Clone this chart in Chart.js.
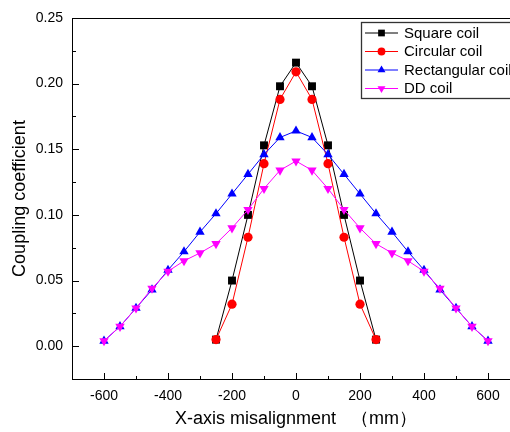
<!DOCTYPE html>
<html>
<head>
<meta charset="utf-8">
<script src="https://cdn.jsdelivr.net/npm/chart.js@4"></script>
<style>
  html, body { margin: 0; padding: 0; background: #fff; overflow: hidden; }
  #wrap { width: 530px; height: 432px; }
</style>
</head>
<body>
<div id="wrap"><canvas id="c" width="530" height="432"></canvas></div>
<script>
// Lateral offset of the receiver (mm)
const X_NARROW = [-250, -200, -150, -100, -50, 0, 50, 100, 150, 200, 250];
const X_WIDE = [-600, -550, -500, -450, -400, -350, -300, -250, -200, -150, -100, -50, 0,
                50, 100, 150, 200, 250, 300, 350, 400, 450, 500, 550, 600];

// Coupling coefficient for each pad geometry
const SQUARE = [0.005, 0.050, 0.100, 0.153, 0.198, 0.216, 0.198, 0.153, 0.100, 0.050, 0.005];
const CIRCULAR = [0.005, 0.032, 0.083, 0.139, 0.188, 0.209, 0.188, 0.139, 0.083, 0.032, 0.005];
const RECTANGULAR = [0.004, 0.015, 0.029, 0.043, 0.058, 0.072, 0.087, 0.101, 0.116, 0.131, 0.146, 0.159, 0.164,
                     0.159, 0.146, 0.131, 0.116, 0.101, 0.087, 0.072, 0.058, 0.043, 0.029, 0.015, 0.004];
const DD = [0.004, 0.015, 0.029, 0.044, 0.057, 0.065, 0.071, 0.078, 0.090, 0.104, 0.120, 0.134, 0.141,
            0.134, 0.120, 0.104, 0.090, 0.078, 0.071, 0.065, 0.057, 0.044, 0.029, 0.015, 0.004];

const SERIES_LABELS = ['Square coil', 'Circular coil', 'Rectangular coil', 'DD coil'];

// Axis ticks
const X_TICKS = [-600, -400, -200, 0, 200, 400, 600];
const X_MINOR = [-700, -500, -300, -100, 100, 300, 500, 700];
const Y_TICKS = [0.00, 0.05, 0.10, 0.15, 0.20, 0.25];
const Y_MINOR = [-0.025, 0.025, 0.075, 0.125, 0.175, 0.225];

const FONT = '"Liberation Sans", Arial, Helvetica, sans-serif';

function pts(xs, ys) { return xs.map((x, i) => ({ x: x, y: ys[i] })); }

const datasets = [
  { label: SERIES_LABELS[0], data: pts(X_NARROW, SQUARE), borderColor: '#000000', backgroundColor: '#000000',
    pointStyle: 'rect', pointRadius: 5.6, order: 4 },
  { label: SERIES_LABELS[1], data: pts(X_NARROW, CIRCULAR), borderColor: '#ff0000', backgroundColor: '#ff0000',
    pointStyle: 'circle', pointRadius: 4.6, order: 3 },
  { label: SERIES_LABELS[2], data: pts(X_WIDE, RECTANGULAR), borderColor: '#0000ff', backgroundColor: '#0000ff',
    pointStyle: 'triangle', pointRadius: 5.4, order: 2 },
  { label: SERIES_LABELS[3], data: pts(X_WIDE, DD), borderColor: '#ff00ff', backgroundColor: '#ff00ff',
    pointStyle: 'triangle', pointRotation: 180, pointRadius: 5.4, order: 1 }
].map(d => Object.assign({ showLine: true, borderWidth: 1, pointBorderWidth: 0, fill: false, tension: 0 }, d));

// Inward major/minor ticks, top frame line and the boxed legend
const framePlugin = {
  id: 'frame',
  afterDraw(chart) {
    const ctx = chart.ctx, a = chart.chartArea;
    const xs = chart.scales.x, ys = chart.scales.y;
    ctx.save();
    ctx.strokeStyle = '#000';
    ctx.lineWidth = 1;
    ctx.beginPath();
    ctx.moveTo(a.left, a.top + 0.5); ctx.lineTo(a.right, a.top + 0.5);
    ctx.moveTo(a.right - 0.5, a.top); ctx.lineTo(a.right - 0.5, a.bottom);
    X_TICKS.forEach(v => { const p = Math.round(xs.getPixelForValue(v)) + 0.5; ctx.moveTo(p, a.bottom); ctx.lineTo(p, a.bottom - 6); });
    X_MINOR.forEach(v => { const p = Math.round(xs.getPixelForValue(v)) + 0.5; ctx.moveTo(p, a.bottom); ctx.lineTo(p, a.bottom - 3); });
    Y_TICKS.forEach(v => { const p = Math.round(ys.getPixelForValue(v)) + 0.5; ctx.moveTo(a.left, p); ctx.lineTo(a.left + 7, p); });
    Y_MINOR.forEach(v => { const p = Math.round(ys.getPixelForValue(v)) + 0.5; ctx.moveTo(a.left, p); ctx.lineTo(a.left + 4, p); });
    ctx.stroke();

    // legend
    const bx = 361.5, by = 22.5, bw = 180, bh = 76;
    ctx.fillStyle = '#fff';
    ctx.fillRect(bx, by, bw, bh);
    ctx.strokeStyle = '#333';
    ctx.lineWidth = 1.3;
    ctx.strokeRect(bx, by, bw, bh);
    const rows = [33, 51.5, 70, 88.5];
    chart.data.datasets.forEach((ds, i) => {
      const y = rows[i];
      ctx.strokeStyle = ds.borderColor;
      ctx.lineWidth = 1;
      ctx.beginPath(); ctx.moveTo(365, y); ctx.lineTo(398, y); ctx.stroke();
      ctx.fillStyle = ds.backgroundColor;
      Chart.helpers.drawPoint(ctx, { pointStyle: ds.pointStyle, radius: ds.pointRadius * 0.85,
        rotation: ds.pointRotation || 0, borderWidth: 0 }, 381.5, y);
      ctx.fillStyle = '#000';
      ctx.font = '15px ' + FONT;
      ctx.textBaseline = 'middle';
      ctx.textAlign = 'left';
      ctx.fillText(ds.label, 404, y + 0.5);
    });
    ctx.restore();
  }
};

new Chart(document.getElementById('c'), {
  type: 'scatter',
  data: { datasets: datasets },
  plugins: [framePlugin],
  options: {
    responsive: false,
    animation: false,
    layout: { padding: { top: 18, right: 10, left: 0, bottom: 0 } },
    plugins: { legend: { display: false }, tooltip: { enabled: false } },
    scales: {
      x: {
        type: 'linear', min: -700, max: 700,
        afterBuildTicks: s => { s.ticks = X_TICKS.map(v => ({ value: v })); },
        afterFit: s => { s.height = 53; },
        grid: { display: true, drawOnChartArea: false, drawTicks: false },
        border: { display: true, color: '#000', width: 1 },
        ticks: { color: '#000', padding: 9, font: { family: FONT, size: 14 }, maxRotation: 0,
                 callback: v => String(v) },
        title: { display: true, text: 'X-axis misalignment   （mm）', color: '#000',
                 font: { family: FONT, size: 18 }, padding: { top: 0, bottom: 2 } }
      },
      y: {
        type: 'linear', min: -0.025, max: 0.25,
        afterBuildTicks: s => { s.ticks = Y_TICKS.map(v => ({ value: v })); },
        afterFit: s => { s.width = 72; },
        grid: { display: true, drawOnChartArea: false, drawTicks: false },
        border: { display: true, color: '#000', width: 1 },
        ticks: { color: '#000', padding: 9, font: { family: FONT, size: 14 },
                 callback: v => Number(v).toFixed(2) },
        title: { display: true, text: 'Coupling coefficient', color: '#000',
                 font: { family: FONT, size: 18 }, padding: { top: 9, bottom: 0 } }
      }
    }
  }
});
</script>
</body>
</html>
